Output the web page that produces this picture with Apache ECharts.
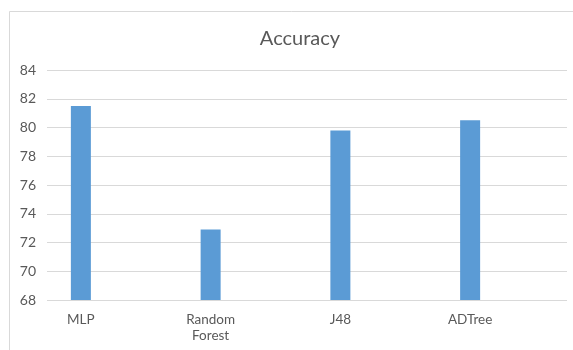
<!DOCTYPE html>
<html>
<head>
<meta charset="utf-8">
<script src="https://cdn.jsdelivr.net/npm/echarts@6/dist/echarts.min.js"></script>
<style>
  html, body { margin: 0; padding: 0; background: #ffffff; }
  #chart { width: 573px; height: 350px; }
</style>
</head>
<body>
<div id="chart"></div>
<script>
// Classifier accuracy (%)
const categories = ['MLP', 'Random Forest', 'J48', 'ADTree'];
const accuracy = [81.5, 72.9, 79.8, 80.5];
const yTicks = { min: 68, max: 84, interval: 2 };

const chart = echarts.init(document.getElementById('chart'), null, { renderer: 'canvas' });

const fontFamily = 'Lato, "Open Sans", sans-serif';
const textColor = '#595959';
const gridColor = '#d9d9d9';

chart.setOption({
  animation: false,
  backgroundColor: '#ffffff',
  title: {
    text: 'Accuracy',
    left: 295,
    top: 24,
    textAlign: 'center',
    textStyle: { fontFamily, fontSize: 20, fontWeight: 'normal', color: textColor }
  },
  graphic: [{
    type: 'rect',
    shape: { x: 9.5, y: 11.5, width: 700, height: 500 },
    style: { fill: 'none', stroke: gridColor, lineWidth: 1 },
    silent: true
  }],
  grid: [
    // value axis grid: tick labels and gridlines
    { left: 47, right: 6, top: 70, bottom: 50 },
    // category grid: bars and category labels
    { left: 16, right: 38, top: 70, bottom: 50 }
  ],
  xAxis: [
    { gridIndex: 0, type: 'value', show: false },
    {
      gridIndex: 1,
      type: 'category',
      data: categories,
      axisLine: { show: false },
      axisTick: { show: false },
      axisLabel: {
        margin: 12,
        fontFamily,
        fontSize: 13.5,
        lineHeight: 16,
        color: textColor,
        interval: 0,
        formatter: v => v.replace(' ', '\n')
      }
    }
  ],
  yAxis: [
    {
      gridIndex: 0,
      type: 'value',
      min: yTicks.min,
      max: yTicks.max,
      interval: yTicks.interval,
      axisLine: { show: false },
      axisTick: { show: false },
      axisLabel: { margin: 11, fontFamily, fontSize: 14, color: textColor },
      splitLine: { lineStyle: { color: gridColor, width: 1 } }
    },
    {
      gridIndex: 1,
      type: 'value',
      min: yTicks.min,
      max: yTicks.max,
      interval: yTicks.interval,
      show: false,
      splitLine: { show: false }
    }
  ],
  series: [{
    type: 'bar',
    xAxisIndex: 1,
    yAxisIndex: 1,
    data: accuracy,
    barWidth: 20,
    itemStyle: { color: '#5b9bd5' }
  }]
});
</script>
</body>
</html>
